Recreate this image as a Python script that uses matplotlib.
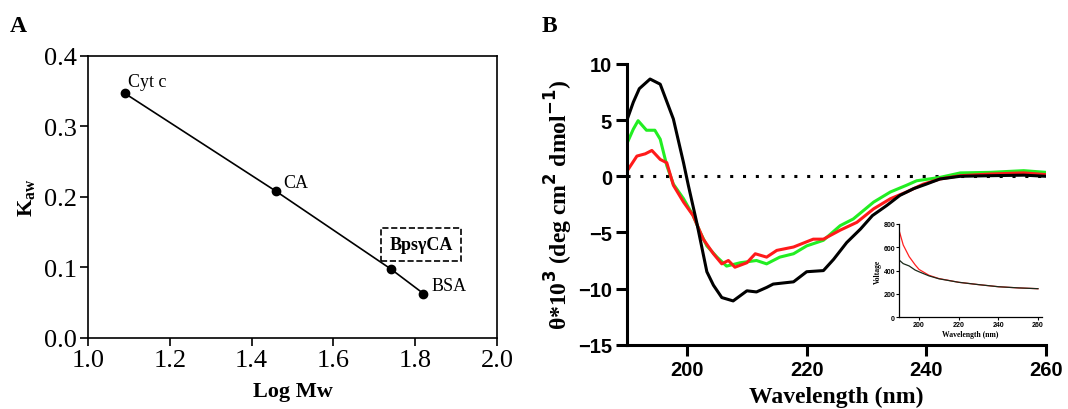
import matplotlib
matplotlib.use("Agg")
import matplotlib.pyplot as plt
import numpy as np

# ---------- Panel A data ----------
proteins = ["Cyt c", "CA", "BpsγCA", "BSA"]
log_mw = [1.09, 1.46, 1.74, 1.82]
k_aw = [0.347, 0.208, 0.098, 0.063]

# ---------- Panel B data (CD spectra) ----------
wl_black = [190, 191, 192, 193.8, 195.5, 197.7, 199.4, 200.2, 201.6, 203.3, 204.4, 205.8, 207.7,
            210, 211.6, 213.3, 214.4, 217.8, 220, 222.8, 224.5, 226.7, 229, 231, 233.4,
            235.6, 237.9, 240, 242.3, 245.7, 250.7, 256.3, 260]
cd_black = [5.1, 6.6, 7.8, 8.66, 8.2, 5.1, 1.2, -0.8, -4.1, -8.5, -9.7, -10.8, -11.1,
            -10.2, -10.3, -9.9, -9.6, -9.4, -8.5, -8.4, -7.4, -5.9, -4.7, -3.5, -2.6,
            -1.7, -1.1, -0.7, -0.24, 0.0, 0.05, 0.1, 0.0]

wl_green = [190, 191, 191.8, 193.2, 194.6, 195.5, 196.6, 197.7, 199.4, 201, 202.2, 203.3, 205,
            206.6, 208.9, 211.6, 213.3, 215.5, 217.8, 220, 222.8, 225.6, 227.8, 231.2,
            234, 236.7, 238.4, 242.3, 245.7, 250.7, 256.3, 260]
cd_green = [3.0, 4.2, 4.95, 4.1, 4.1, 3.3, 0.95, -0.7, -2.0, -3.5, -5.0, -6.2, -7.2,
            -8.0, -7.7, -7.5, -7.8, -7.2, -6.9, -6.2, -5.7, -4.4, -3.8, -2.3,
            -1.4, -0.8, -0.4, -0.1, 0.3, 0.35, 0.5, 0.35]

wl_red = [190, 191.6, 193, 194.1, 195.5, 196.6, 197.7, 199.4, 201, 202.7, 204.4, 205.8, 206.9,
          208, 210, 211.4, 213.3, 215, 217.8, 221.1, 222.8, 225.6, 228.4, 231.2, 234,
          236.7, 239.5, 242.3, 245.7, 250.7, 256.3, 260]
cd_red = [0.5, 1.8, 2.0, 2.3, 1.5, 1.2, -0.8, -2.3, -3.5, -5.6, -6.9, -7.8, -7.5,
          -8.1, -7.7, -6.9, -7.2, -6.6, -6.3, -5.6, -5.6, -4.8, -4.1, -2.9, -2.0,
          -1.4, -0.7, -0.24, 0.05, 0.2, 0.3, 0.15]

# ---------- Inset data (HT voltage) ----------
wl_volt = [190, 192, 195, 198, 200, 205, 210, 220, 230, 240, 250, 260]
volt_black = [490, 460, 440, 405, 390, 355, 330, 300, 280, 262, 252, 245]
volt_red = [740, 620, 520, 450, 410, 360, 332, 300, 280, 262, 252, 245]

serif = "Liberation Serif"
sans = "Liberation Sans"

fig = plt.figure(figsize=(10.68, 4.10), dpi=100)

# ================= Panel A =================
axA = fig.add_axes([0.0824, 0.1732, 0.383, 0.6878])
axA.plot(log_mw, k_aw, color="black", lw=1.2, marker="o", ms=6, mfc="black", mec="black")
axA.set_xlim(1.0, 2.0)
axA.set_ylim(0.0, 0.4)
axA.set_xticks([1.0, 1.2, 1.4, 1.6, 1.8, 2.0])
axA.set_yticks([0.0, 0.1, 0.2, 0.3, 0.4])
axA.set_xticklabels([f"{v:.1f}" for v in [1.0, 1.2, 1.4, 1.6, 1.8, 2.0]])
axA.set_yticklabels([f"{v:.1f}" for v in [0.0, 0.1, 0.2, 0.3, 0.4]])
axA.tick_params(direction="out", length=6, width=1.2, labelsize=19, pad=2, top=False, right=False)
for lab in axA.get_xticklabels() + axA.get_yticklabels():
    lab.set_fontfamily(serif)
for s in axA.spines.values():
    s.set_linewidth(1.2)
axA.set_xlabel("Log Mw", fontfamily=serif, fontweight="bold", fontsize=16, labelpad=7)
axA.set_ylabel(r"K$_{\mathregular{aw}}$", fontfamily=serif, fontweight="bold", fontsize=16, labelpad=4)

axA.text(1.098, 0.3645, "Cyt c", fontfamily=serif, fontsize=13, ha="left", va="center")
axA.text(1.477, 0.220, "CA", fontfamily=serif, fontsize=13, ha="left", va="center")
axA.text(1.840, 0.074, "BSA", fontfamily=serif, fontsize=13, ha="left", va="center")
axA.text(1.814, 0.133, "BpsγCA", fontfamily=serif, fontsize=13, fontweight="bold",
         ha="center", va="center",
         bbox=dict(boxstyle="square,pad=0.45", fc="none", ec="black", ls="--", lw=1.2))

fig.text(0.009, 0.935, "A", fontfamily=serif, fontweight="bold", fontsize=17, ha="left", va="center")

# ================= Panel B =================
axB = fig.add_axes([0.5874, 0.1568, 0.3918, 0.6847])
axB.axhline(0, color="black", lw=2.2, ls=(0, (1, 3.2)), zorder=1)
axB.plot(wl_black, cd_black, color="black", lw=2.2, zorder=3)
axB.plot(wl_green, cd_green, color="#22ee22", lw=2.2, zorder=2)
axB.plot(wl_red, cd_red, color="#ff1a1a", lw=2.2, zorder=2)
axB.set_xlim(190, 260)
axB.set_ylim(-15, 10)
axB.set_xticks([200, 220, 240, 260])
axB.set_yticks([-15, -10, -5, 0, 5, 10])
axB.spines["top"].set_visible(False)
axB.spines["right"].set_visible(False)
for s in ["left", "bottom"]:
    axB.spines[s].set_linewidth(2.2)
axB.tick_params(direction="out", length=8, width=2.2, labelsize=14.5, pad=3)
for lab in axB.get_xticklabels() + axB.get_yticklabels():
    lab.set_fontfamily(sans)
    lab.set_fontweight("bold")
axB.set_xlabel("Wavelength (nm)", fontfamily=serif, fontweight="bold", fontsize=17, labelpad=5)
axB.set_ylabel(r"θ*10$^{\mathbf{3}}$ (deg cm$^{\mathbf{2}}$ dmol$^{\mathbf{-1}}$)",
               fontfamily=serif, fontweight="bold", fontsize=17, labelpad=2)

fig.text(0.507, 0.935, "B", fontfamily=serif, fontweight="bold", fontsize=17, ha="left", va="center")

# ================= Inset =================
axI = fig.add_axes([0.842, 0.2237, 0.1336, 0.2276])
axI.plot(wl_volt, volt_red, color="#ff2020", lw=0.9)
axI.plot(wl_volt, volt_black, color="#1a2a1a", lw=0.9)
axI.set_xlim(190, 262)
axI.set_ylim(0, 800)
axI.set_xticks([200, 220, 240, 260])
axI.set_yticks([0, 200, 400, 600, 800])
axI.spines["top"].set_visible(False)
axI.spines["right"].set_visible(False)
for s in ["left", "bottom"]:
    axI.spines[s].set_linewidth(0.9)
axI.patch.set_alpha(0)
axI.tick_params(direction="out", length=2, width=0.8, labelsize=5, pad=1)
for lab in axI.get_xticklabels() + axI.get_yticklabels():
    lab.set_fontfamily(sans)
    lab.set_fontweight("bold")
axI.set_xlabel("Wavelength (nm)", fontfamily=serif, fontweight="bold", fontsize=5.5, labelpad=1)
axI.set_ylabel("Voltage", fontfamily=serif, fontweight="bold", fontsize=5.5, labelpad=1)

fig.savefig("out.png", dpi=100)
